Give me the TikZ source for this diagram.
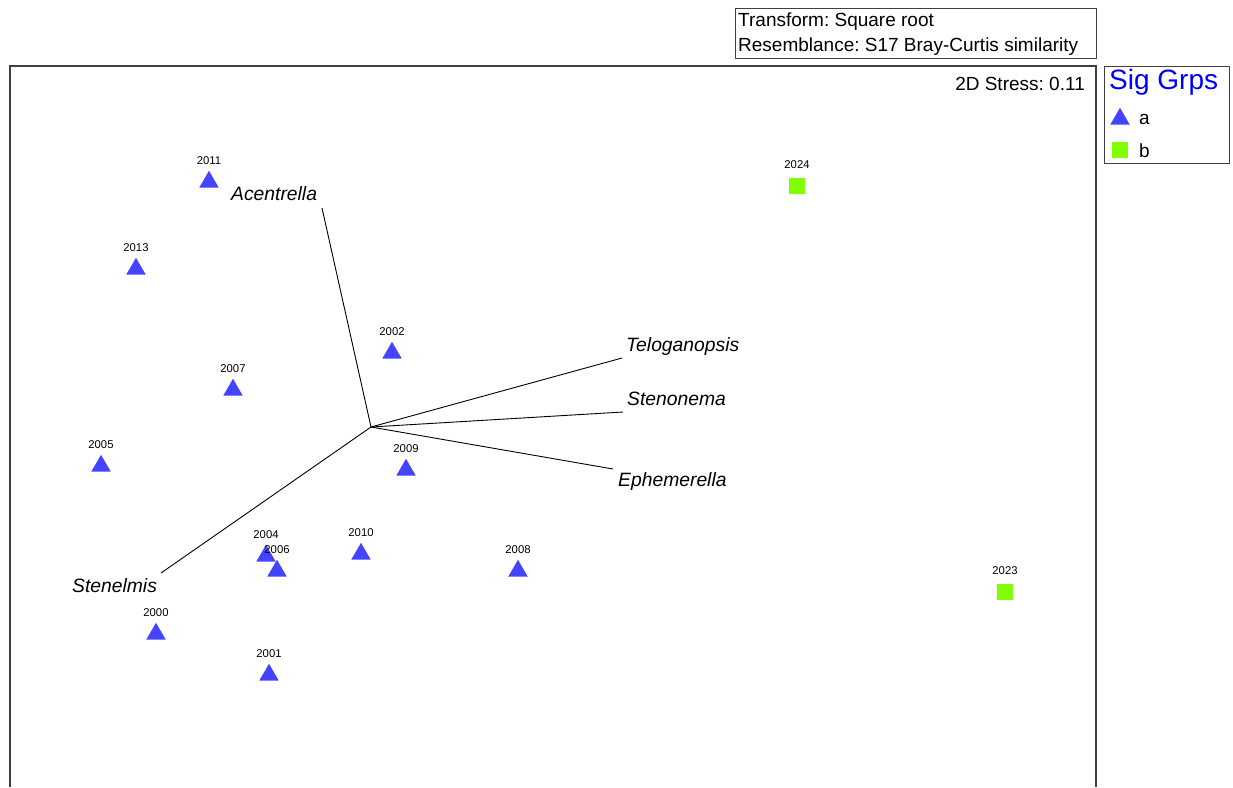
\documentclass[tikz,border=0pt]{standalone}
\usepackage{fontspec}
\setmainfont{Liberation Sans}
\usetikzlibrary{shapes.geometric}
\definecolor{grpa}{HTML}{4444FF}
\definecolor{grpb}{HTML}{80FF00}
\definecolor{sigblue}{HTML}{0000FF}
\definecolor{framegray}{HTML}{404040}
\frenchspacing

\begin{document}
\begin{tikzpicture}[x=1pt, y=-1pt,
  every node/.style={font=\fontsize{19}{23}\selectfont, inner sep=0pt},
  grpA/.style={regular polygon, regular polygon sides=3, fill=grpa, minimum size=22.5pt},
  grpB/.style={rectangle, fill=grpb, minimum size=16.5pt},
  yearlbl/.style={font=\fontsize{11.3}{13}\selectfont, anchor=base},
  spp/.style={font=\fontsize{19.3}{23}\selectfont\itshape, anchor=base west},
  vec/.style={black, line width=0.9pt}]

  \useasboundingbox (0,0) rectangle (1233,787);

  % ---- Plot frame (open at the bottom) ----
  \draw[framegray, line width=1.3pt] (10,787) -- (10,66) -- (1096,66) -- (1096,787);

  % ---- Info box ----
  \node[draw=framegray, line width=0.8pt, minimum width=361pt, minimum height=50pt, anchor=north west]
    (info) at (735,8) {};
  \node[anchor=base west] (trans) at (738,26) {Transform: Square root};
  \node[anchor=base west] (resem) at (738,51) {Resemblance: S17 Bray-Curtis similarity};

  % ---- Stress ----
  \node[anchor=base east] (stress) at (1085,90) {2D Stress: 0.11};

  % ---- Legend ----
  \node[draw=framegray, line width=0.8pt, minimum width=125pt, minimum height=97pt, anchor=north west]
    (legend) at (1104,66) {};
  \node[anchor=base west, text=sigblue, font=\fontsize{28}{31}\selectfont] (legtitle) at (1109,89) {Sig Grps};
  \node[grpA] (legA) at (1120,119) {};
  \node[anchor=base west] (legAtxt) at (1139,124) {a};
  \node[grpB] (legB) at (1120,150) {};
  \node[anchor=base west] (legBtxt) at (1139,157) {b};

  % ---- Group a: triangles (x, y of box centre) ----
  \foreach \yr/\x/\y in {2011/209/179, 2013/136/266, 2002/392/350, 2007/233/387,
      2005/101/463, 2009/406/467, 2004/266/553, 2006/277/568, 2010/361/551,
      2008/518/568, 2000/156/631, 2001/269/672} {
    \node[grpA] (p\yr) at (\x,\y+3) {};
    \node[yearlbl] (l\yr) at (\x,\y-15) {\yr};
  }

  % ---- Group b: squares ----
  \foreach \yr/\x/\y in {2024/797/186, 2023/1005/592} {
    \node[grpB] (p\yr) at (\x,\y) {};
    \node[yearlbl] (l\yr) at (\x,\y-18) {\yr};
  }

  % ---- Species vectors ----
  \coordinate (ctr) at (371,427);
  \coordinate (eAcen) at (322,208);
  \coordinate (eTelo) at (622,358);
  \coordinate (eSten) at (623,412);
  \coordinate (eEphe) at (613,469);
  \coordinate (eStel) at (161,573);
  \foreach \e in {eAcen, eTelo, eSten, eEphe, eStel}
    \draw[vec] (ctr) -- (\e);

  \node[spp] (acen) at (231,200) {Acentrella};
  \node[spp] (telo) at (626,351) {Teloganopsis};
  \node[spp] (sten) at (627,405) {Stenonema};
  \node[spp] (ephe) at (618,486) {Ephemerella};
  \node[spp] (stel) at (72,592) {Stenelmis};

\end{tikzpicture}
\end{document}
